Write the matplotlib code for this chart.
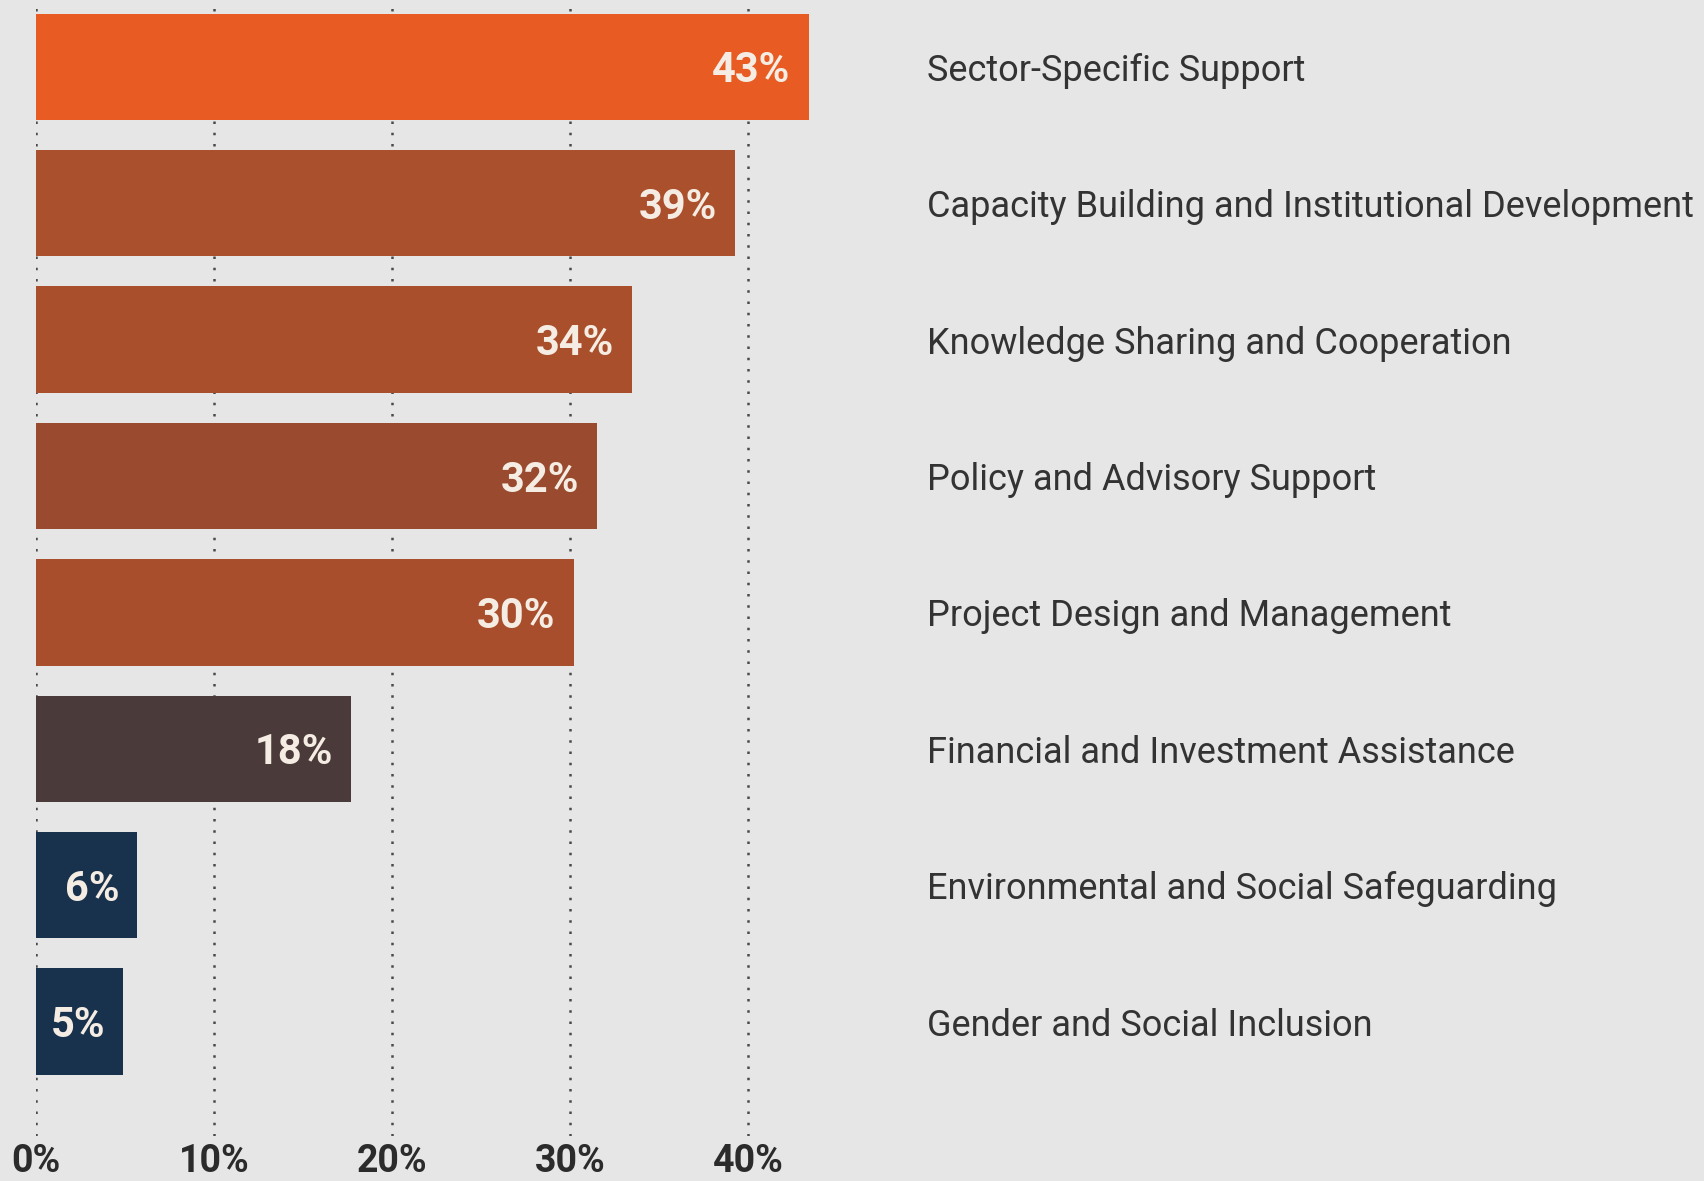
import matplotlib
matplotlib.use("Agg")
import matplotlib.pyplot as plt
import matplotlib.transforms as mtransforms

# ---- data (top to bottom) ----
categories = [
    "Sector-Specific Support",
    "Capacity Building and Institutional Development",
    "Knowledge Sharing and Cooperation",
    "Policy and Advisory Support",
    "Project Design and Management",
    "Financial and Investment Assistance",
    "Environmental and Social Safeguarding",
    "Gender and Social Inclusion",
]
# bar lengths as measured off the chart, and the rounded labels printed on them
shares = [43.4, 39.25, 33.5, 31.5, 30.2, 17.7, 5.7, 4.9]
share_labels = ["43%", "39%", "34%", "32%", "30%", "18%", "6%", "5%"]
bar_colors = ["#E85B22", "#AB502C", "#AA4F2C", "#9A4B2F",
              "#A84E2C", "#4B3A3A", "#18324D", "#18324D"]
x_ticks = [0, 10, 20, 30, 40]
x_ticklabels = ["0%", "10%", "20%", "30%", "40%"]

FONT = ["Roboto", "DejaVu Sans"]
bg = "#E6E6E6"

W, H, DPI = 1704, 1181, 100
fig = plt.figure(figsize=(W / DPI, H / DPI), dpi=DPI)
fig.patch.set_facecolor(bg)

# axes placed in pixels: 0% at x=36, 17.8 px per percent
x0_px, px_per = 36, 17.8
xmax = 48
ax = fig.add_axes([x0_px / W, 45 / H, xmax * px_per / W, 1136 / H])
ax.set_facecolor(bg)

ypos = list(range(len(categories)))
ax.barh(ypos, shares, height=0.78, color=bar_colors, zorder=2)

ax.set_xlim(0, xmax)
ax.set_ylim(7.84, -0.49)

# dotted vertical grid
for t in x_ticks:
    ax.axvline(t, color="#4A4A4A", lw=1.8, ls=(0, (1, 3.5)), zorder=1)

for s in ax.spines.values():
    s.set_visible(False)
ax.set_yticks([])
ax.set_xticks(x_ticks)
ax.set_xticklabels(x_ticklabels, family=FONT, fontsize=27,
                   fontweight="bold", color="#2B2B2B")
ax.tick_params(axis="x", length=0, pad=5)

# small nudge down so the glyphs sit on the bar centre
nudge = 0.03

# value labels inside the bars
pad = 18 / px_per
for y, v, lab in zip(ypos, shares, share_labels):
    ax.text(v - pad, y + nudge, lab, ha="right", va="center",
            family=FONT, fontsize=30, fontweight="bold",
            color="#F5EDE3", zorder=3)

# category labels on the right
trans = mtransforms.blended_transform_factory(fig.transFigure, ax.transData)
for y, name in zip(ypos, categories):
    ax.text(927 / W, y + nudge, name, transform=trans, ha="left", va="center",
            family=FONT, fontsize=26, color="#333333", clip_on=False)

fig.savefig("out.png", dpi=DPI, facecolor=bg)
